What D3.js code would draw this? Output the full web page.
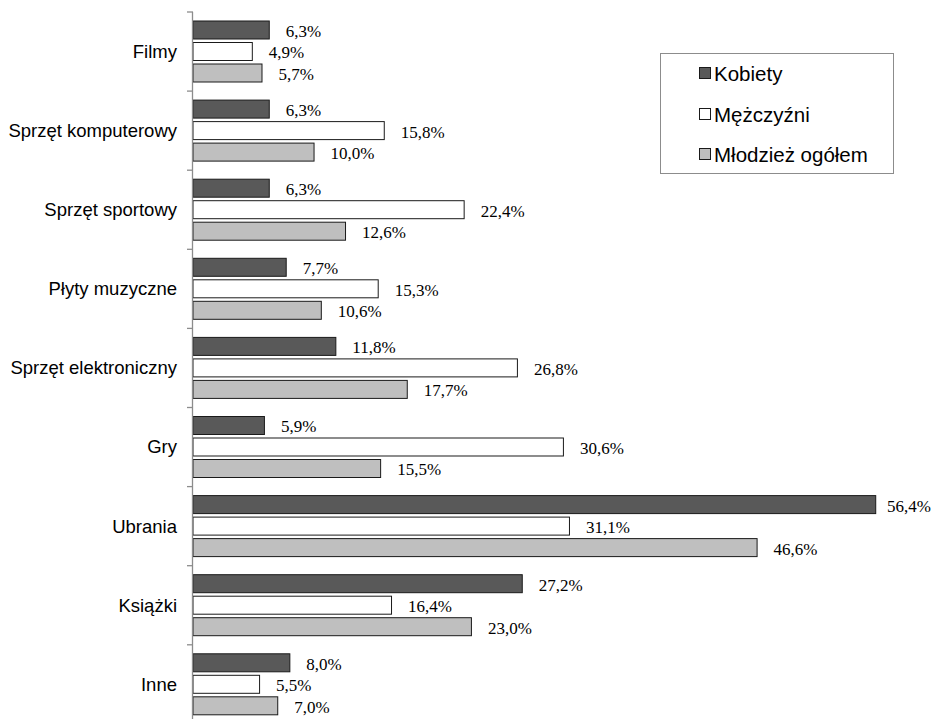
<!DOCTYPE html>
<html><head><meta charset="utf-8">
<script src="https://cdn.jsdelivr.net/npm/d3@7/dist/d3.min.js"></script>
<style>body{margin:0;background:#fff}svg{display:block}</style>
</head><body>
<svg id="c" width="933" height="719"></svg>
<script>
const categories = ["Filmy","Sprzęt komputerowy","Sprzęt sportowy","Płyty muzyczne","Sprzęt elektroniczny","Gry","Ubrania","Książki","Inne"];
const seriesNames = ["Kobiety","Mężczyźni","Młodzież ogółem"];
const kobiety   = [6.3, 6.3, 6.3, 7.7, 11.8, 5.9, 56.4, 27.2, 8.0];
const mezczyzni = [4.9, 15.8, 22.4, 15.3, 26.8, 30.6, 31.1, 16.4, 5.5];
const ogolem    = [5.7, 10.0, 12.6, 10.6, 17.7, 15.5, 46.6, 23.0, 7.0];
const seriesValues = [kobiety, mezczyzni, ogolem];
const colors = ["#595959", "#ffffff", "#bfbfbf"];

const svg = d3.select("#c");
const x0 = 193;
const x = d3.scaleLinear().domain([0, 60]).range([x0, x0 + 60 * 12.105]);
const y = d3.scaleBand().domain(categories).range([12, 12 + 9 * 79.1]);
const ys = d3.scaleBand().domain(seriesNames).range([9, 70]).paddingInner(0.163);
const fmt = v => v.toFixed(1).replace(".", ",") + "%";

const g = svg.append("g");
categories.forEach((c, i) => {
  const cg = g.append("g").attr("transform", `translate(0,${y(c)})`);
  seriesNames.forEach((s, j) => {
    const v = seriesValues[j][i];
    cg.append("rect")
      .attr("x", x(0)).attr("y", ys(s))
      .attr("width", x(v) - x(0)).attr("height", ys.bandwidth())
      .attr("fill", colors[j]).attr("stroke", "#1a1a1a").attr("stroke-width", 1);
    const t = cg.append("text")
      .attr("x", x(v) + 16.5).attr("y", ys(s) + ys.bandwidth() / 2 + 1)
      .attr("dy", "0.35em")
      .attr("font-family", "Liberation Serif, Times New Roman, serif")
      .attr("font-size", 17).attr("fill", "#000")
      .text(fmt(v));
    const w = t.node().getComputedTextLength();
    if (x(v) + 16.5 + w > 931) t.attr("x", 931 - w);
  });
  cg.append("text")
    .attr("x", 177).attr("y", ys(seriesNames[1]) + ys.bandwidth() / 2)
    .attr("dy", "0.35em").attr("text-anchor", "end")
    .attr("font-family", "Liberation Sans, Arial, sans-serif")
    .attr("font-size", 18.5).attr("fill", "#000")
    .text(c);
});

// axis
const ax = svg.append("g").attr("stroke", "#8c8c8c").attr("stroke-width", 1.3);
ax.append("line").attr("x1", x0 - 0.5).attr("x2", x0 - 0.5).attr("y1", y.range()[0]).attr("y2", y.range()[1]);
const bounds = categories.map(c => y(c)).concat([y.range()[1]]);
bounds.forEach(b => {
  ax.append("line").attr("x1", x0 - 6).attr("x2", x0).attr("y1", b).attr("y2", b);
});

// legend
const lg = svg.append("g");
lg.append("rect").attr("x", 660.5).attr("y", 53.5).attr("width", 233).attr("height", 120)
  .attr("fill", "#fff").attr("stroke", "#8c8c8c").attr("stroke-width", 1);
const ly = [73, 114, 154];
seriesNames.forEach((s, j) => {
  lg.append("rect").attr("x", 699.5).attr("y", ly[j] - 5.5).attr("width", 11).attr("height", 11)
    .attr("fill", colors[j]).attr("stroke", "#1a1a1a").attr("stroke-width", 1);
  lg.append("text").attr("x", 714).attr("y", ly[j] + 1).attr("dy", "0.35em")
    .attr("font-family", "Liberation Sans, Arial, sans-serif").attr("font-size", 20.5)
    .attr("fill", "#000").text(s);
});
</script>
</body></html>
